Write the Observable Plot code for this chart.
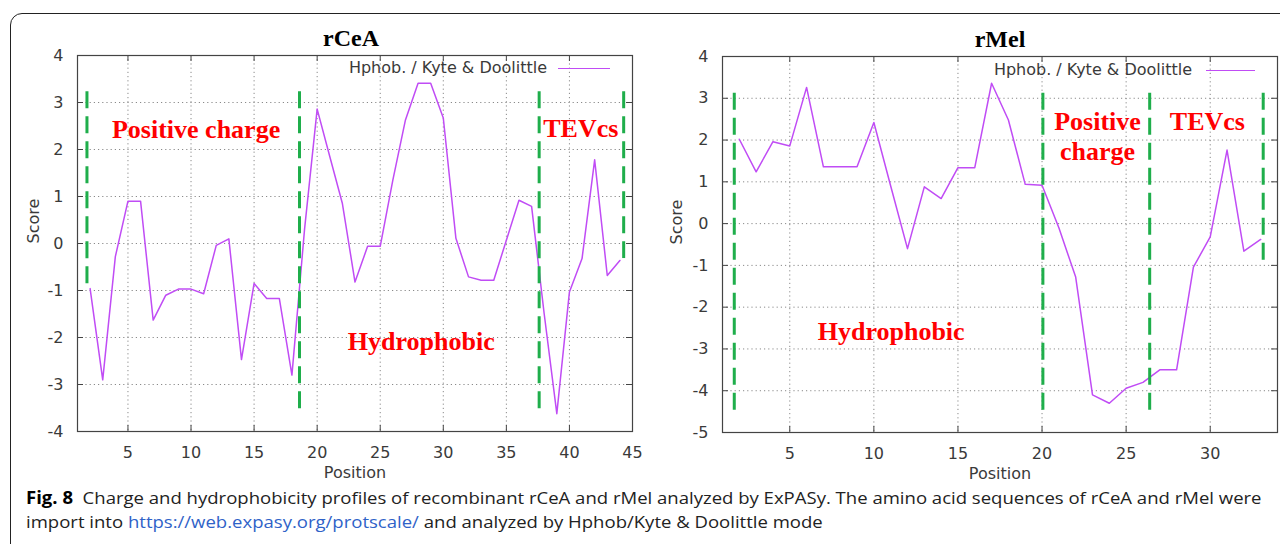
<!DOCTYPE html>
<html>
<head>
<meta charset="utf-8">
<script src="https://cdn.jsdelivr.net/npm/d3@7"></script>
<script src="https://cdn.jsdelivr.net/npm/@observablehq/plot@0.6"></script>
<style>
  html, body { margin: 0; padding: 0; background: #fff; }
  body { width: 1280px; height: 544px; overflow: hidden; position: relative; font-family: "DejaVu Sans", sans-serif; }
  #box { position: absolute; left: 10px; top: 13px; width: 1320px; height: 600px; border: 1.5px solid #222; border-radius: 12px; }
  .panel { position: absolute; top: 0; }
  .legend { position: absolute; font-family: "DejaVu Sans", sans-serif; font-size: 16px; color: #3a3a3a; white-space: nowrap; line-height: 20px; }
  .legend .sw { position: absolute; height: 0; border-top: 1.6px solid #c04cf5; }
  #cap { position: absolute; left: 26px; top: 486px; font-family: "Open Sans", sans-serif; font-size: 17px; line-height: 24px; color: #222; white-space: nowrap; transform-origin: 0 0; }
  #cap b { color: #000; }
  #cap .lnk { color: #2f62c8; }
</style>
</head>
<body>
<div id="box"></div>
<div id="left" class="panel" style="left:0px"></div>
<div id="right" class="panel" style="left:640px"></div>
<div id="cap">
  <div id="l1"><b>Fig. 8</b>&nbsp; Charge and hydrophobicity profiles of recombinant rCeA and rMel analyzed by ExPASy. The amino acid sequences of rCeA and rMel were</div>
  <div id="l2">import into <span class="lnk">https://web.expasy.org/protscale/</span> and analyzed by Hphob/Kyte &amp; Doolittle mode</div>
</div>
<script>
// ---------- data: rCeA ----------
const posL = [2,3,4,5,6,7,8,9,10,11,12,13,14,15,16,17,18,19,20,21,22,23,24,25,26,27,28,29,30,31,32,33,34,35,36,37,38,39,40,41,42,43,44];
const scoreL = [-0.96,-2.9,-0.28,0.9,0.9,-1.63,-1.1,-0.97,-0.97,-1.07,-0.04,0.1,-2.47,-0.85,-1.17,-1.17,-2.8,0.3,2.86,1.85,0.85,-0.82,-0.06,-0.06,1.35,2.63,3.41,3.41,2.67,0.11,-0.71,-0.78,-0.78,0.07,0.92,0.79,-1.5,-3.62,-1.03,-0.32,1.78,-0.68,-0.36];
const xDomainL = [1, 45];
const yDomainL = [-4, 4];
const xTicksL = [5,10,15,20,25,30,35,40,45];
const yTicksL = [-4,-3,-2,-1,0,1,2,3,4];
const boundXL = [1.75, 18.6, 37.6, 44.3];
const boundTopL = [3.23, 3.23, 3.23, 3.23];
const boundBottomL = [-0.96, -3.6, -3.62, -0.32];
const annTextL = ["Positive charge", "Hydrophobic", "TEVcs"];
const annXL = [10.4, 28.25, 40.9];
const annYL = [2.45, -2.06, 2.47];

// ---------- data: rMel ----------
const posR = [2,3,4,5,6,7,8,9,10,11,12,13,14,15,16,17,18,19,20,21,22,23,24,25,26,27,28,29,30,31,32,33];
const scoreR = [2.02,1.24,1.96,1.86,3.26,1.36,1.36,1.36,2.42,0.9,-0.6,0.88,0.6,1.34,1.34,3.36,2.48,0.94,0.92,-0.1,-1.28,-4.1,-4.3,-3.94,-3.8,-3.5,-3.5,-1.04,-0.32,1.76,-0.66,-0.38];
const xDomainR = [1, 34];
const yDomainR = [-5, 4];
const xTicksR = [5,10,15,20,25,30];
const yTicksR = [-5,-4,-3,-2,-1,0,1,2,3,4];
const boundXR = [1.7, 20.05, 26.4, 33.15];
const boundTopR = [3.12, 3.12, 3.12, 3.12];
const boundBottomR = [-4.6, -4.6, -4.6, -0.88];
const annTextR = ["Hydrophobic", "Positive\ncharge", "TEVcs"];
const annXR = [11.03, 23.3, 29.83];
const annYR = [-2.56, 2.12, 2.48];

const titles = ["rCeA", "rMel"];
const legendLabel = "Hphob. / Kyte & Doolittle";

function panel(o) {
  const W = 640, H = 490;
  const fw = W - o.ml - o.mr, fh = H - o.mt - o.mb;
  const data = o.pos.map((p, i) => ({p, s: o.score[i]}));
  const bounds = o.bx.map((x, i) => ({x, y1: o.btop[i], y2: o.bbot[i]}));
  const ann = o.annText.map((t, i) => ({t, x: o.annX[i], y: o.annY[i]}));
  const grid = {stroke: "#8a8a8a", strokeOpacity: 1, strokeWidth: 1, strokeDasharray: "1.2,3"};
  const fmt = d => String(d);
  return Plot.plot({
    width: W, height: H,
    marginLeft: o.ml, marginRight: o.mr, marginTop: o.mt, marginBottom: o.mb,
    x: {domain: o.xDomain, axis: null},
    y: {domain: o.yDomain, axis: null},
    style: {fontFamily: "DejaVu Sans, sans-serif", fontSize: "16px", color: "#3a3a3a", background: "transparent", overflow: "visible"},
    marks: [
      Plot.ruleX(o.xTicks, {x: d => d, ...grid}),
      Plot.ruleY(o.yTicks, {y: d => d, ...grid}),
      Plot.tickX(o.xTicks, {x: d => d, insetTop: fh - 6, stroke: "#444"}),
      Plot.tickX(o.xTicks, {x: d => d, insetBottom: fh - 6, stroke: "#444"}),
      Plot.tickY(o.yTicks, {y: d => d, insetRight: fw - 6, stroke: "#444"}),
      Plot.tickY(o.yTicks, {y: d => d, insetLeft: fw - 6, stroke: "#444"}),
      Plot.frame({stroke: "#444", strokeWidth: 1.2}),
      Plot.axisX(o.xTicks, {tickSize: 0, tickPadding: 15, fontSize: 16, label: null, tickFormat: fmt}),
      Plot.axisY(o.yTicks, {tickSize: 0, tickPadding: 14, fontSize: 16, label: null, tickFormat: fmt}),
      Plot.text(["Position"], {text: d => d, frameAnchor: "bottom", lineAnchor: "middle", dy: 41, fontSize: 16, fill: "#3a3a3a"}),
      Plot.text(["Score"], {text: d => d, frameAnchor: "left", dx: o.scoreDx, rotate: -90, fontSize: 16, fill: "#3a3a3a"}),
      Plot.text([o.title], {text: d => d, frameAnchor: "top", lineAnchor: "middle", dy: -17, dx: o.titleDx, fontFamily: "Liberation Serif, serif", fontWeight: "bold", fontSize: 24, fill: "#000"}),
      Plot.line(data, {x: "p", y: "s", stroke: "#c04cf5", strokeWidth: 1.5}),
      Plot.ruleX(bounds, {x: "x", y1: "y1", y2: "y2", stroke: "#1fae4b", strokeWidth: 3, strokeDasharray: "17,8"}),
      Plot.text(ann, {x: "x", y: "y", text: "t", fill: "#ff0000", fontFamily: "Liberation Serif, serif", fontWeight: "bold", fontSize: 26, lineHeight: 1.15})
    ]
  });
}

document.getElementById("left").appendChild(panel({
  pos: posL, score: scoreL, xDomain: xDomainL, yDomain: yDomainL, xTicks: xTicksL, yTicks: yTicksL,
  bx: boundXL, btop: boundTopL, bbot: boundBottomL, annText: annTextL, annX: annXL, annY: annYL,
  title: titles[0], ml: 77, mr: 8, mt: 55, mb: 59, scoreDx: -44, titleDx: -4
}));
document.getElementById("right").appendChild(panel({
  pos: posR, score: scoreR, xDomain: xDomainR, yDomain: yDomainR, xTicks: xTicksR, yTicks: yTicksR,
  bx: boundXR, btop: boundTopR, bbot: boundBottomR, annText: annTextR, annX: annXR, annY: annYR,
  title: titles[1], ml: 82, mr: 3, mt: 56, mb: 58, scoreDx: -46, titleDx: 0
}));

// legends (label + line swatch), placed top-right inside each frame
function legend(textRight, swLeft, swRight, cy) {
  const d = document.createElement("div");
  d.className = "legend";
  d.style.left = "0px"; d.style.top = (cy - 10) + "px"; d.style.width = "1280px"; d.style.height = "20px";
  const t = document.createElement("span");
  t.textContent = legendLabel;
  t.style.position = "absolute"; t.style.right = (1280 - textRight) + "px"; t.style.top = "0px";
  const s = document.createElement("span");
  s.className = "sw";
  s.style.left = swLeft + "px"; s.style.width = (swRight - swLeft) + "px"; s.style.top = "10px";
  d.appendChild(t); d.appendChild(s);
  document.body.appendChild(d);
}
legend(547, 558, 610, 68);
legend(1192, 1206, 1255, 70);

// fit caption width to reference
const cap = document.getElementById("cap");
const w1 = document.getElementById("l1").scrollWidth;
cap.style.transform = `scaleX(${1236 / w1})`;
</script>
</body>
</html>
